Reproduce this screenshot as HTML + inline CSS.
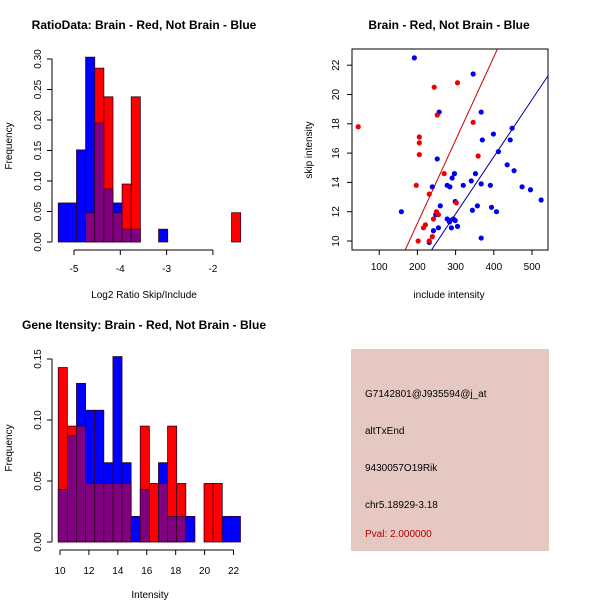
<!DOCTYPE html>
<html><head><meta charset="utf-8"><style>
body{margin:0;background:#fff;}
svg{display:block;font-family:"Liberation Sans",sans-serif;}
.t{font-weight:bold;font-size:12px;}
.l{font-size:10px;}
</style></head><body>
<svg id="c" width="600" height="600">
<text class="t" x="144" y="29" text-anchor="middle">RatioData: Brain - Red, Not Brain - Blue</text>
<text class="t" x="449" y="29" text-anchor="middle">Brain - Red, Not Brain - Blue</text>
<text class="t" x="144" y="329" text-anchor="middle">Gene Itensity: Brain - Red, Not Brain - Blue</text>
<text class="l" x="144" y="298" text-anchor="middle">Log2 Ratio Skip/Include</text>
<text class="l" x="12" y="146" text-anchor="middle" transform="rotate(-90 12 146)">Frequency</text>
<text class="l" x="449" y="298" text-anchor="middle">include intensity</text>
<text class="l" x="312" y="150" text-anchor="middle" transform="rotate(-90 312 150)">skip intensity</text>
<text class="l" x="150" y="598" text-anchor="middle">Intensity</text>
<text class="l" x="12" y="448" text-anchor="middle" transform="rotate(-90 12 448)">Frequency</text>
<g>
<rect x="351" y="349" width="198" height="202" fill="#e6c8c2"/>
<text class="l" x="365" y="397">G7142801@J935594@j_at</text>
<text class="l" x="365" y="434">altTxEnd</text>
<text class="l" x="365" y="471">9430057O19Rik</text>
<text class="l" x="365" y="508">chr5.18929-3.18</text>
<text class="l" x="365" y="537" fill="#b00000">Pval: 2.000000</text>
</g>
</svg>
<script>
// Ratio histogram
const ratioStart=-5.34, ratioWidth=0.197;
const ratioBlue=[0.064,0.064,0.151,0.303,0.195,0.087,0.064,0.021,0.021,0,0,0.021,0,0,0,0,0,0,0,0];
const ratioRed=[0,0,0,0.048,0.285,0.238,0.048,0.095,0.238,0,0,0,0,0,0,0,0,0,0,0.048];
const ratioYTicks=["0.00","0.05","0.10","0.15","0.20","0.25","0.30"];
const ratioXTicks=[-5,-4,-3,-2];
// Intensity histogram
const intStart=9.88, intWidth=0.63;
const intBlue=[0.043,0.087,0.130,0.108,0.108,0.065,0.152,0.065,0.021,0.043,0,0.065,0.021,0.021,0.021,0,0,0,0.021,0.021];
const intRed=[0.143,0.095,0.095,0.048,0.048,0.048,0.048,0.048,0,0.095,0.048,0.048,0.095,0.048,0,0,0.048,0.048,0,0];
const intYTicks=["0.00","0.05","0.10","0.15"];
const intXTicks=[10,12,14,16,18,20,22];
// Scatter
const blueX=[192,346,257,367,399,448,370,443,412,252,435,453,297,291,352,341,367,391,320,278,285,239,474,496,524,299,260,357,394,344,407,158,248,278,285,294,299,284,289,305,255,242,367,231];
const blueY=[22.5,21.4,18.8,18.8,17.3,17.7,16.9,16.9,16.1,15.6,15.2,14.8,14.6,14.3,14.6,14.1,13.9,13.8,13.8,13.8,13.7,13.7,13.7,13.5,12.8,12.7,12.4,12.4,12.3,12.1,12.0,12.0,11.8,11.5,11.4,11.5,11.4,11.3,10.9,11.0,10.9,10.7,10.2,9.9];
const redX=[45,305,244,252,346,205,205,205,359,270,197,231,302,250,255,242,221,216,202,239,231];
const redY=[17.8,20.8,20.5,18.6,18.1,17.1,16.7,15.9,15.8,14.6,13.8,13.2,12.6,12.0,11.8,11.5,11.1,10.9,10.0,10.3,10.0];
const redFit=[-0.155,0.0568];
const blueFit=[0.147,0.039];
const scXTicks=[100,200,300,400,500];
const scYTicks=[10,12,14,16,18,20,22];

const svg=document.getElementById('c');
const NS='http://www.w3.org/2000/svg';
function mk(tag,at){const e=document.createElementNS(NS,tag);for(const k in at)e.setAttribute(k,at[k]);svg.appendChild(e);return e;}
function txt(x,y,s,rot,name){const e=mk('text',{x:x,y:y,'font-size':'10','text-anchor':'middle'});if(rot)e.setAttribute('transform','rotate(-90 '+x+' '+y+')');e.textContent=s;

return e;}
function line(x1,y1,x2,y2,name,col){const e=mk('line',{x1:x1,y1:y1,x2:x2,y2:y2,stroke:col||'#000','stroke-width':1});

return e;}

function hist(blue,red,start,width,xs,ys,yTicksL,yStep,xTicks,axisY,axisX,tickLabelY,pre){
  for(let i=0;i<blue.length;i++){
    const x0=xs(start+i*width),x1=xs(start+(i+1)*width);
    const b=blue[i],r=red[i],m=Math.min(b,r),mx=Math.max(b,r);
    if(mx>0){
      const col=b>r?'#0000ff':'#ff0000';
      const e=mk('rect',{x:x0,y:ys(mx),width:x1-x0,height:ys(0)-ys(mx),fill:col,stroke:'#300020','stroke-width':0.8});
      
      
    }
    if(m>0){
      const e=mk('rect',{x:x0,y:ys(m),width:x1-x0,height:ys(0)-ys(m),fill:'#800080',stroke:'#300020','stroke-width':0.8});
      
      
    }
  }
  const yt=yTicksL.map((s,i)=>ys(i*yStep));
  line(axisX,yt[0],axisX,yt[yt.length-1],pre+'-y-axis');
  yTicksL.forEach((s,i)=>{line(axisX-5,yt[i],axisX,yt[i],pre+'-y-tick');txt(axisX-11,yt[i],s,true,pre+'-y-tick-label');});
  line(xs(xTicks[0]),axisY,xs(xTicks[xTicks.length-1]),axisY,pre+'-x-axis');
  xTicks.forEach(v=>{line(xs(v),axisY,xs(v),axisY+5,pre+'-x-tick');txt(xs(v),tickLabelY,String(v),false,pre+'-x-tick-label');});
}
hist(ratioBlue,ratioRed,ratioStart,ratioWidth,v=>74+(v+5)*46.3,v=>242-v*610,ratioYTicks,0.05,ratioXTicks,250,52,272,'ratio');
hist(intBlue,intRed,intStart,intWidth,v=>60+(v-10)*14.46,v=>542-v*1220,intYTicks,0.05,intXTicks,550,52,574,'intensity');

// scatter
const sx=v=>341+v*0.382, sy=v=>241-(v-10)*14.65;
const box=mk('rect',{x:352,y:49,width:196,height:201,fill:'none',stroke:'#000'});


scXTicks.forEach(v=>{line(sx(v),250,sx(v),255,'scatter-x-tick');txt(sx(v),270,String(v),false,'scatter-x-tick-label');});
scYTicks.forEach(v=>{line(347,sy(v),352,sy(v),'scatter-y-tick');txt(339,sy(v),String(v),true,'scatter-y-tick-label');});
const cp=document.createElementNS(NS,'clipPath');cp.setAttribute('id','clp');
const cr=document.createElementNS(NS,'rect');cr.setAttribute('x',352);cr.setAttribute('y',49);cr.setAttribute('width',196);cr.setAttribute('height',201);cp.appendChild(cr);svg.appendChild(cp);
function fitLine(f,col,name){const x0=0,x1=600;const e=line(sx(x0),sy(f[0]+f[1]*x0),sx(x1),sy(f[0]+f[1]*x1),name,col);e.setAttribute('clip-path','url(#clp)');}
fitLine(redFit,'#cc0000','red-fit-line');
fitLine(blueFit,'#000099','blue-fit-line');
blueX.forEach((v,i)=>{const e=mk('circle',{cx:sx(v),cy:sy(blueY[i]),r:2.6,fill:'#0000ee'});

});
redX.forEach((v,i)=>{const e=mk('circle',{cx:sx(v),cy:sy(redY[i]),r:2.6,fill:'#ee0000'});

});
</script>
</body></html>
